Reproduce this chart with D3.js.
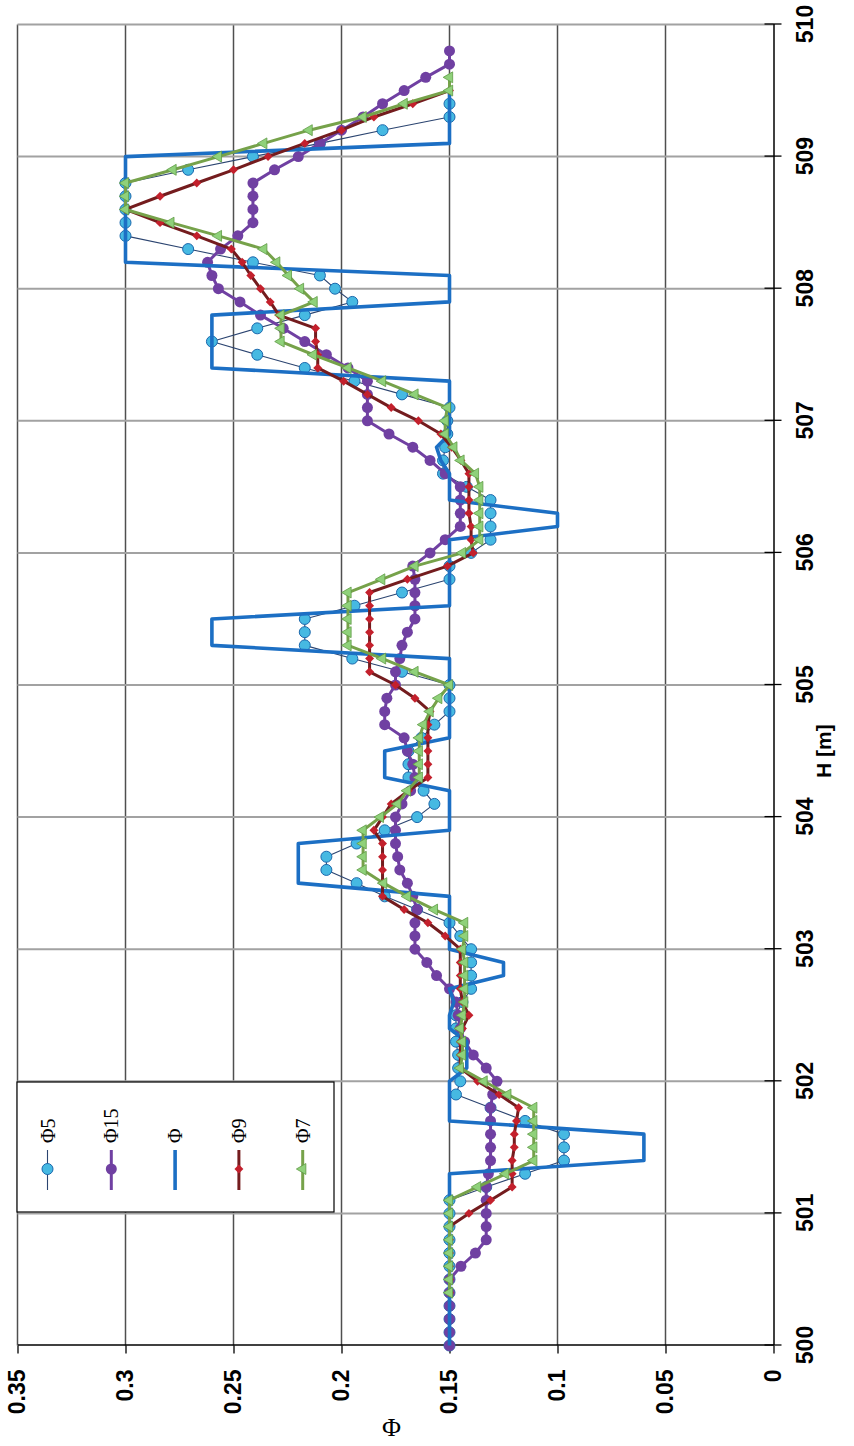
<!DOCTYPE html>
<html>
<head>
<meta charset="utf-8">
<script src="https://cdn.jsdelivr.net/npm/d3@7"></script>
<style>
  html, body { margin: 0; padding: 0; background: #ffffff; }
  svg { display: block; }
</style>
</head>
<body>
<svg id="chart" width="854" height="1446"></svg>
<script>
// Elevation H [m], sampled every 0.1 m
const H = [
  500.0,500.1,500.2,500.3,500.4,500.5,500.6,500.7,500.8,500.9,
  501.0,501.1,501.2,501.3,501.4,501.5,501.6,501.7,501.8,501.9,
  502.0,502.1,502.2,502.3,502.4,502.5,502.6,502.7,502.8,502.9,
  503.0,503.1,503.2,503.3,503.4,503.5,503.6,503.7,503.8,503.9,
  504.0,504.1,504.2,504.3,504.4,504.5,504.6,504.7,504.8,504.9,
  505.0,505.1,505.2,505.3,505.4,505.5,505.6,505.7,505.8,505.9,
  506.0,506.1,506.2,506.3,506.4,506.5,506.6,506.7,506.8,506.9,
  507.0,507.1,507.2,507.3,507.4,507.5,507.6,507.7,507.8,507.9,
  508.0,508.1,508.2,508.3,508.4,508.5,508.6,508.7,508.8,508.9,
  509.0,509.1,509.2,509.3,509.4,509.5,509.6,509.7,509.8
];

// Porosity profiles, one value per elevation (null = no value)
const phi5 = [
  .15,.15,.15,.15,.15,.15,.15,.15,.15,.15,
  .15,.15,.133,.115,.097,.097,.097,.115,.131,.147,
  .145,.146,.146,.147,.147,.147,.144,.140,.140,.140,
  .140,.145,.150,.165,.180,.193,.207,.207,.193,.180,
  .165,.157,.162,.169,.169,.169,.163,.157,.150,.150,
  .150,.172,.195,.217,.217,.217,.194,.172,.150,.150,
  .140,.131,.131,.131,.131,.142,.153,.153,.152,.151,
  .151,.150,.172,.194,.217,.239,.260,.239,.217,.195,
  .203,.210,.241,.271,.300,.300,.300,.300,.300,.271,
  .241,.210,.181,.150,.150,null,null,null,null
];
const phi15 = [
  .15,.15,.15,.15,.15,.15,.1447,.138,.133,.133,
  .133,.133,.133,.132,.131,.131,.131,.131,.131,.130,
  .128,.133,.139,.143,.145,.146,.147,.150,.156,.1605,
  .166,.166,.166,.165,.167,.1695,.173,.174,.175,.175,
  .175,.172,.168,.166,.167,.1695,.171,.180,.180,.179,
  .175,.175,.173,.172,.1695,.166,.166,.166,.166,.167,
  .159,.152,.145,.145,.145,.145,.152,.159,.167,.178,
  .188,.188,.188,.188,.197,.207,.217,.227,.2375,.247,
  .257,.260,.262,.256,.248,.241,.241,.241,.241,.231,
  .220,.210,.200,.190,.181,.171,.161,.150,.150
];
const phi = [
  .15,.15,.15,.15,.15,.15,.15,.15,.15,.15,
  .15,.15,.15,.15,.06,.06,.06,.15,.15,.15,
  .15,.142,.142,.142,.15,.15,.148,.15,.125,.125,
  .15,.15,.15,.15,.15,.22,.22,.22,.22,.15,
  .15,.15,.15,.18,.18,.18,.15,.15,.15,.15,
  .15,.15,.15,.26,.26,.26,.15,.15,.15,.15,
  .15,.15,.10,.10,.15,.15,.15,.154,.156,.15,
  .15,.15,.15,.15,.26,.26,.26,.26,.26,.15,
  .15,.15,.30,.30,.30,.30,.30,.30,.30,.30,
  .30,.15,.15,.15,.15,.15,null,null,null
];
const phi9 = [
  null,null,null,null,.15,.15,.15,.15,.15,.15,
  .141,.131,.121,.121,.121,.120,.120,.119,.118,.127,
  .137,.145,.145,.145,.144,.141,.144,.145,.145,.145,
  .145,.152,.160,.171,.181,.181,.181,.181,.181,.185,
  .181,.177,.169,.160,.160,.160,.160,.160,.159,.166,
  .175,.187,.187,.187,.187,.187,.187,.187,.1695,.151,
  .139,.140,.140,.141,.141,.141,.141,.1447,.149,.154,
  .1644,.177,.188,.199,.211,.211,.212,.212,.229,.233,
  .2375,.242,.246,.251,.267,.284,.300,.284,.267,.250,
  .234,.217,.200,.185,.167,.150,null,null,null
];
const phi7 = [
  null,null,null,null,.15,.15,.15,.15,.15,.15,
  .15,.15,.137,.124,.111,.111,.111,.111,.111,.123,
  .134,.145,.144,.144,.145,.144,.143,.143,.143,.143,
  .144,.143,.143,.157,.1695,.1805,.190,.190,.190,.190,
  .182,.174,.1695,.164,.164,.164,.164,.162,.159,.155,
  .150,.166,.181,.197,.197,.197,.197,.197,.1814,.166,
  .144,.136,.136,.136,.136,.136,.138,.1447,.148,.152,
  .152,.151,.166,.181,.197,.213,.228,.228,.228,.2127,
  .219,.2246,.230,.236,.257,.279,.300,.300,.300,.278,
  .257,.236,.215,.190,.171,.150,.150,null,null
];

// Axis ticks and labels
const hTicks = [500,501,502,503,504,505,506,507,508,509,510];
const hTickLabels = ["500","501","502","503","504","505","506","507","508","509","510"];
const phiTicks = [0,0.05,0.1,0.15,0.2,0.25,0.3,0.35];
const phiTickLabels = ["0","0.05","0.1","0.15","0.2","0.25","0.3","0.35"];

// Series names in legend order
const seriesNames = ["\u03A65","\u03A615","\u03A6","\u03A69","\u03A67"];

// ---- drawing ----
const W = 854, HT = 1446;
const svg = d3.select("#chart");
svg.append("rect").attr("width", W).attr("height", HT).attr("fill", "#ffffff");

// The chart is laid out landscape (H along x, Φ along y) and turned a quarter turn counter-clockwise.
const g = svg.append("g").attr("transform", `translate(0,${HT}) rotate(-90)`);

const x = d3.scaleLinear().domain([500, 510]).range([100.5, 1421.5]);
const y = d3.scaleLinear().domain([0, 0.35]).range([773.5, 17.5]);

const tickFont = '"Liberation Sans Narrow","Arial Narrow","Liberation Sans",Arial,sans-serif';

// value gridlines (Φ)
g.append("g").selectAll("line").data(phiTicks.filter(v => v > 0)).join("line")
  .attr("x1", x(500)).attr("x2", x(510))
  .attr("y1", d => y(d)).attr("y2", d => y(d))
  .attr("stroke", "#4f4f4f").attr("stroke-width", 1.5);

// category gridlines (H)
g.append("g").selectAll("line").data(hTicks.filter(v => v > 500)).join("line")
  .attr("x1", d => x(d)).attr("x2", d => x(d))
  .attr("y1", y(0.35)).attr("y2", y(0))
  .attr("stroke", "#a2a2a2").attr("stroke-width", 2);

// Φ axis
const yAxis = d3.axisLeft(y).tickValues(phiTicks)
  .tickFormat((d, i) => phiTickLabels[i])
  .tickSize(8).tickSizeOuter(0).tickPadding(16);
const ya = g.append("g").attr("transform", `translate(${x(500)},0)`).call(yAxis);
ya.select(".domain").attr("stroke", "#000").attr("stroke-width", 1.5);
ya.selectAll(".tick line").attr("stroke", "#000").attr("stroke-width", 1.3);
ya.selectAll(".tick text")
  .attr("font-family", tickFont).attr("font-size", 23).attr("font-weight", "bold").attr("fill", "#000");

// H axis
const xAxis = d3.axisBottom(x).tickValues(hTicks)
  .tickFormat((d, i) => hTickLabels[i])
  .tickSize(8).tickSizeOuter(0);
const xa = g.append("g").attr("transform", `translate(0,${y(0)})`).call(xAxis);
xa.select(".domain").attr("stroke", "#000").attr("stroke-width", 1.5);
xa.selectAll(".tick line").attr("y1", -9).attr("y2", 8).attr("stroke", "#000").attr("stroke-width", 1.3);
xa.selectAll(".tick text")
  .attr("y", 31).attr("dy", "0.35em")
  .attr("font-family", tickFont).attr("font-size", 23).attr("font-weight", "bold").attr("fill", "#000");

// axis titles
g.append("text")
  .attr("transform", `translate(19,${(y(0.15)+y(0.2))/2 - 4}) rotate(90)`)
  .attr("text-anchor", "middle").attr("dominant-baseline", "central")
  .attr("font-family", '"Liberation Serif","Times New Roman",serif')
  .attr("font-size", 26).attr("fill", "#000")
  .text("\u03A6");
g.append("text")
  .attr("x", x(504.5)).attr("y", 823)
  .attr("text-anchor", "middle").attr("dominant-baseline", "central")
  .attr("font-family", '"Liberation Sans",Arial,sans-serif')
  .attr("font-size", 21).attr("font-weight", "bold").attr("fill", "#000")
  .text("H [m]");

// series styles
const styles = [
  { values: phi5,  line: "#2b4470", width: 1.1, marker: "circle",   fill: "#46b9e2", stroke: "#1b68ad", size: 5.5 },
  { values: phi15, line: "#7040a2", width: 3,   marker: "circle",   fill: "#7040a2", stroke: "none",    size: 5.5 },
  { values: phi,   line: "#1c6fc4", width: 3.6, marker: null },
  { values: phi9,  line: "#741c1e", width: 3,   marker: "diamond",  fill: "#c3202c", stroke: "none",    size: 40 },
  { values: phi7,  line: "#76a24a", width: 3,   marker: "triangle", fill: "#8fd17a", stroke: "#5f9b45", size: 52 }
];

const line = d3.line()
  .defined(d => d[1] != null)
  .x(d => x(d[0])).y(d => y(d[1]));

function drawMarker(sel, s) {
  if (s.marker === "circle") {
    sel.append("circle").attr("r", s.size)
      .attr("fill", s.fill).attr("stroke", s.stroke).attr("stroke-width", 1);
  } else if (s.marker === "diamond") {
    sel.append("path").attr("d", d3.symbol(d3.symbolSquare, s.size)())
      .attr("transform", "rotate(45)")
      .attr("fill", s.fill);
  } else if (s.marker === "triangle") {
    sel.append("path").attr("d", d3.symbol(d3.symbolTriangle, s.size)())
      .attr("fill", s.fill).attr("stroke", s.stroke).attr("stroke-width", 0.8);
  }
}

styles.forEach(s => {
  const pts = H.map((h, i) => [h, s.values[i]]);
  g.append("path").datum(pts)
    .attr("fill", "none").attr("stroke", s.line).attr("stroke-width", s.width)
    .attr("stroke-linejoin", "round")
    .attr("d", line);
  if (s.marker) {
    g.append("g").selectAll("g").data(pts.filter(d => d[1] != null)).join("g")
      .attr("transform", d => `translate(${x(d[0])},${y(d[1])})`)
      .each(function () { drawMarker(d3.select(this), s); });
  }
});

// legend
const lg = g.append("g");
lg.append("rect").attr("x", 234).attr("y", 17).attr("width", 130).attr("height", 317)
  .attr("fill", "#ffffff").attr("stroke", "#000").attr("stroke-width", 1.2);
seriesNames.forEach((name, i) => {
  const s = styles[i];
  const ly = 47.5 + i * 63.8;
  const e = lg.append("g").attr("transform", `translate(0,${ly})`);
  e.append("line").attr("x1", 256).attr("x2", 296).attr("y1", 0).attr("y2", 0)
    .attr("stroke", s.line).attr("stroke-width", s.width);
  if (s.marker) drawMarker(e.append("g").attr("transform", "translate(277,0)"), s);
  e.append("text").attr("x", 303).attr("y", 0)
    .attr("dominant-baseline", "central")
    .attr("font-family", '"Liberation Serif","Times New Roman",serif')
    .attr("font-size", 20).attr("fill", "#000")
    .text(name);
});
</script>
</body>
</html>
